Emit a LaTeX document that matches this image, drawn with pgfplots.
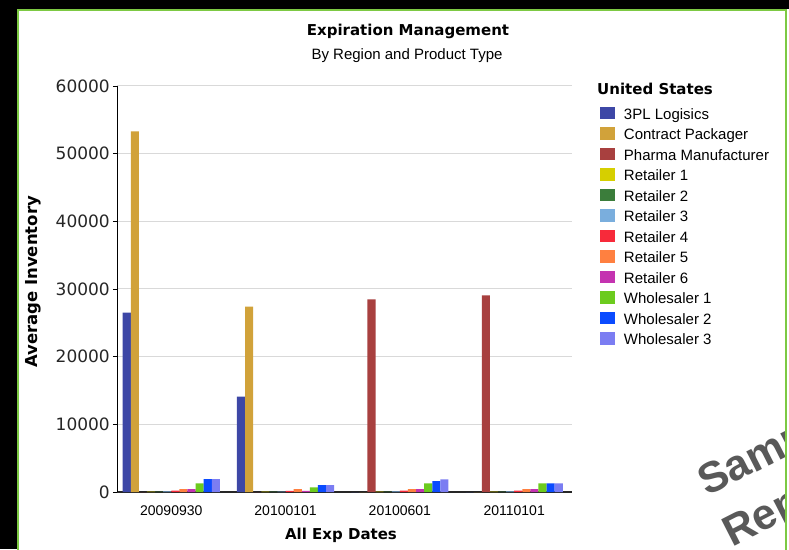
\documentclass[border=0pt]{standalone}
\usepackage{fontspec}
\setmainfont{Liberation Sans}
\newfontfamily\dejavu{DejaVu Sans}
\usepackage{pgfplots}
\usepackage{pgfplotstable}
\pgfplotsset{compat=1.18}

\definecolor{cTPL}{HTML}{3D47A6}
\definecolor{cCon}{HTML}{D1A23A}
\definecolor{cPha}{HTML}{A8403F}
\definecolor{cRa}{HTML}{D6CF00}
\definecolor{cRb}{HTML}{3B7D3B}
\definecolor{cRc}{HTML}{7AAEDD}
\definecolor{cRd}{HTML}{F72A3A}
\definecolor{cRe}{HTML}{FF8040}
\definecolor{cRf}{HTML}{C433B0}
\definecolor{cWa}{HTML}{6CCB1E}
\definecolor{cWb}{HTML}{0A4BFF}
\definecolor{cWc}{HTML}{7B7DF2}
\definecolor{frame}{HTML}{7DC943}
\definecolor{wmark}{HTML}{595959}

% average inventory per exp date (0=20090930, 1=20100101, 2=20100601, 3=20110101)
\pgfplotstableread{
x  tpl    con    pha    ra  rb  rc  rd   re   rf   wa    wb    wc
0  26500  53300  0      60  60  80  200  420  420  1280  1900  1900
1  14100  27400  0      50  50  70  150  440  150  690   1030  1030
2  0      0      28450  60  60  80  220  420  420  1280  1620  1870
3  0      0      29050  60  60  80  200  420  420  1280  1280  1280
}\inv

\pgfplotsset{sq/.style={legend image code/.code={\fill[##1] (0pt,-0.3pt) rectangle (15pt,12.3pt);}}}

\begin{document}
\begin{tikzpicture}
\useasboundingbox (0,0) rectangle (789pt,549pt);
\fill[white] (0,0) rectangle (789pt,549pt);

\begin{scope}
\clip (19pt,0pt) rectangle (785pt,538pt);
\node[wmark, font=\fontsize{43}{50}\selectfont\bfseries, rotate=27, anchor=base west, inner sep=0pt] at (707pt,52pt) {Sample};
\node[wmark, font=\fontsize{43}{50}\selectfont\bfseries, rotate=27, anchor=base west, inner sep=0pt] at (732pt,1pt) {Report};
\end{scope}

\fill[black] (0,0) rectangle (17pt,549pt);
\fill[black] (0,540pt) rectangle (789pt,549pt);
\draw[frame, line width=2pt] (18pt,-2pt) -- (18pt,539pt) -- (786pt,539pt) -- (786pt,-2pt);
\fill[white] (787pt,0) rectangle (789pt,538pt);

\node[font=\dejavu\fontsize{15}{18}\selectfont\bfseries, anchor=base] at (408pt,513.5pt) {Expiration Management};
\node[font=\fontsize{15}{18}\selectfont, anchor=base] at (407pt,489pt) {By Region and Product Type};
\node[font=\dejavu\fontsize{15}{18}\selectfont\bfseries, anchor=base west, inner sep=0pt] at (597pt,454pt) {United States};
\node[font=\dejavu\fontsize{15}{18}\selectfont\bfseries, anchor=base, inner sep=0pt] at (341pt,9.5pt) {All Exp Dates};
\node[font=\dejavu\fontsize{16.5}{19}\selectfont\bfseries, anchor=base, inner sep=0pt, rotate=90] at (37pt,267pt) {Average Inventory};

\begin{axis}[
  at={(117pt,57pt)}, anchor=south west,
  scale only axis, width=455pt, height=406pt,
  ybar=0pt, bar width=8.1pt,
  xmin=-0.475, xmax=3.506, ymin=0, ymax=60000,
  xtick={0,1,2,3},
  xticklabels={20090930,20100101,20100601,20110101},
  ytick={0,10000,...,60000},
  scaled y ticks=false,
  /pgf/number format/1000 sep={},
  /pgf/number format/assume math mode=true,
  axis x line*=bottom, axis y line*=left,
  x axis line style={line width=2pt, black!85},
  y axis line style={line width=1pt, black},
  xtick style={draw=none},
  ytick style={black, line width=0.8pt},
  tick align=outside, major tick length=4pt,
  ymajorgrids, grid style={draw=black!15, line width=1pt},
  xticklabel style={font=\fontsize{14}{17}\selectfont, anchor=north, inner sep=0pt, yshift=-10pt},
  yticklabel style={font=\dejavu\fontsize{17}{20}\selectfont, text=black!85, anchor=east, inner sep=0pt, xshift=-3pt},
  legend style={at={(axis description cs:1.0615,0.9495)}, anchor=north west,
    draw=none, fill=none, inner sep=0pt, outer sep=0pt,
    font=\fontsize{15}{18}\selectfont, row sep=4pt, column sep=9pt,
    nodes={inner sep=0pt, text height=12.5pt, text depth=4pt, anchor=base west}},
  legend cell align=left,
]
\addplot[fill=cTPL, draw=none, sq] table[x=x, y=tpl] {\inv};
\addplot[fill=cCon, draw=none, sq] table[x=x, y=con] {\inv};
\addplot[fill=cPha, draw=none, sq] table[x=x, y=pha] {\inv};
\addplot[fill=cRa, draw=none, sq] table[x=x, y=ra] {\inv};
\addplot[fill=cRb, draw=none, sq] table[x=x, y=rb] {\inv};
\addplot[fill=cRc, draw=none, sq] table[x=x, y=rc] {\inv};
\addplot[fill=cRd, draw=none, sq] table[x=x, y=rd] {\inv};
\addplot[fill=cRe, draw=none, sq] table[x=x, y=re] {\inv};
\addplot[fill=cRf, draw=none, sq] table[x=x, y=rf] {\inv};
\addplot[fill=cWa, draw=none, sq] table[x=x, y=wa] {\inv};
\addplot[fill=cWb, draw=none, sq] table[x=x, y=wb] {\inv};
\addplot[fill=cWc, draw=none, sq] table[x=x, y=wc] {\inv};
\legend{3PL Logisics, Contract Packager, Pharma Manufacturer, Retailer 1, Retailer 2, Retailer 3, Retailer 4, Retailer 5, Retailer 6, Wholesaler 1, Wholesaler 2, Wholesaler 3}
\end{axis}
\end{tikzpicture}
\end{document}
